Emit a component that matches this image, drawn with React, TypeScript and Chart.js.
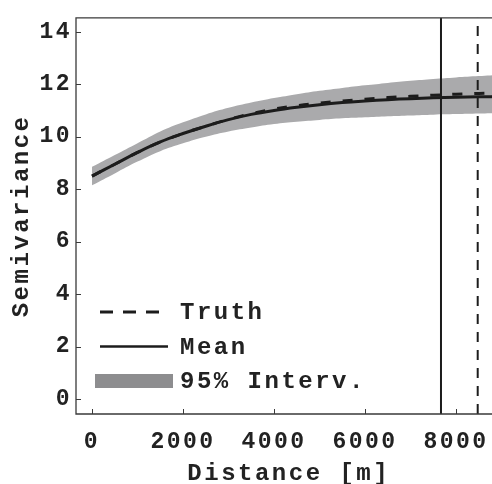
import React, { useEffect, useRef } from "react";
import { Chart, registerables } from "chart.js";

Chart.register(...registerables);

// Lag distance in metres
const distance = [0, 500, 1000, 1500, 2000, 2500, 3000, 3500, 4000, 4500, 5000, 5500, 6000, 6500, 7000, 7500, 8000, 8500, 9000];
// Posterior mean semivariogram
const meanSemivariance = [8.5, 8.95, 9.4, 9.8, 10.12, 10.4, 10.65, 10.85, 11.0, 11.12, 11.22, 11.3, 11.36, 11.41, 11.45, 11.48, 11.5, 11.52, 11.53];
// True semivariogram
const trueSemivariance = [8.5, 8.95, 9.4, 9.8, 10.12, 10.4, 10.66, 10.88, 11.05, 11.18, 11.28, 11.36, 11.43, 11.49, 11.54, 11.58, 11.62, 11.65, 11.68];
// 95% credible interval
const lowerBound = [8.15, 8.6, 9.05, 9.45, 9.75, 10.0, 10.2, 10.35, 10.48, 10.57, 10.64, 10.7, 10.74, 10.78, 10.81, 10.84, 10.86, 10.88, 10.9];
const upperBound = [8.85, 9.3, 9.75, 10.2, 10.55, 10.85, 11.1, 11.3, 11.47, 11.62, 11.75, 11.86, 11.96, 12.05, 12.13, 12.2, 12.26, 12.31, 12.36];

// Estimated (mean) and true practical ranges
const meanRange = 7670;
const trueRange = 8477;

const xTickValues = [0, 2000, 4000, 6000, 8000];
const yTickValues = [0, 2, 4, 6, 8, 10, 12, 14];

const legendLabels = ["Truth", "Mean", "95% Interv."];

const X_MIN = -352;
const X_MAX = 9000;
const Y_MIN = -0.566;
const Y_MAX = 14.53;

const INK = "#1c1c1c";
const TEXT = "#222222";
const FRAME = "#3a3a3a";
const BAND = "#aaaaac";
const SWATCH = "#8d8d8f";
const FONT = "'Liberation Mono', 'DejaVu Sans Mono', monospace";

const CANVAS_W = 520;
const CANVAS_H = 484;

const toPoints = (ys: number[]) => distance.map((x, i) => ({ x, y: ys[i] }));

const spacingPlugin = {
  id: "letterSpacing",
  beforeDraw(chart: any) {
    chart.ctx.letterSpacing = "2.5px";
  },
};

const framePlugin = {
  id: "frameAndLegend",
  afterDatasetsDraw(chart: any) {
    const { ctx, chartArea, scales } = chart;
    const { left, top, bottom } = chartArea;
    const right = chart.width;
    ctx.save();
    ctx.letterSpacing = "0px";
    ctx.strokeStyle = FRAME;
    ctx.lineWidth = 1.3;
    ctx.beginPath();
    ctx.moveTo(right, top);
    ctx.lineTo(left, top);
    ctx.lineTo(left, bottom);
    ctx.lineTo(right, bottom);
    ctx.stroke();
    // inward tick marks
    ctx.lineWidth = 1;
    ctx.beginPath();
    xTickValues.forEach((v) => {
      const px = Math.round(scales.x.getPixelForValue(v)) + 0.5;
      ctx.moveTo(px, bottom);
      ctx.lineTo(px, bottom - 5);
    });
    yTickValues.forEach((v) => {
      const py = Math.round(scales.y.getPixelForValue(v)) + 0.5;
      ctx.moveTo(left, py);
      ctx.lineTo(left + 5, py);
    });
    ctx.stroke();
    ctx.restore();
  },
  afterDraw(chart: any) {
    const { ctx, chartArea } = chart;
    const { left, bottom } = chartArea;
    const rows = [bottom - 102, bottom - 67.5, bottom - 33];
    const sampleX = left + 24;
    const textX = left + 104;
    ctx.save();
    ctx.letterSpacing = "0px";
    ctx.strokeStyle = INK;
    ctx.lineCap = "butt";
    // Truth sample
    ctx.lineWidth = 3;
    ctx.setLineDash([13, 10]);
    ctx.beginPath();
    ctx.moveTo(sampleX, rows[0]);
    ctx.lineTo(sampleX + 59, rows[0]);
    ctx.stroke();
    // Mean sample
    ctx.setLineDash([]);
    ctx.lineWidth = 2.6;
    ctx.beginPath();
    ctx.moveTo(sampleX, rows[1]);
    ctx.lineTo(sampleX + 68, rows[1]);
    ctx.stroke();
    // Interval swatch
    ctx.fillStyle = SWATCH;
    ctx.fillRect(left + 19, rows[2] - 7, 78, 14);
    // Labels
    ctx.letterSpacing = "2.5px";
    ctx.fillStyle = TEXT;
    ctx.font = `bold 24px ${FONT}`;
    ctx.textAlign = "left";
    ctx.textBaseline = "middle";
    legendLabels.forEach((label, i) => {
      ctx.fillText(label, textX, rows[i] + 1);
    });
    ctx.restore();
  },
};

export default function App() {
  const canvasRef = useRef<HTMLCanvasElement | null>(null);

  useEffect(() => {
    const canvas = canvasRef.current;
    if (!canvas) return;
    const chart = new Chart(canvas, {
      type: "line",
      data: {
        datasets: [
          {
            label: "lower",
            data: toPoints(lowerBound),
            borderWidth: 0,
            pointRadius: 0,
            fill: false,
            tension: 0.4,
            order: 5,
          },
          {
            label: legendLabels[2],
            data: toPoints(upperBound),
            borderWidth: 0,
            pointRadius: 0,
            backgroundColor: BAND,
            fill: "-1",
            tension: 0.4,
            order: 4,
          },
          {
            label: legendLabels[0],
            data: toPoints(trueSemivariance),
            borderColor: INK,
            borderWidth: 3,
            borderDash: [10, 12],
            pointRadius: 0,
            fill: false,
            tension: 0.4,
            order: 2,
          },
          {
            label: legendLabels[1],
            data: toPoints(meanSemivariance),
            borderColor: INK,
            borderWidth: 3,
            pointRadius: 0,
            fill: false,
            tension: 0.4,
            order: 1,
          },
          {
            label: "mean range",
            data: [
              { x: meanRange, y: Y_MIN },
              { x: meanRange, y: Y_MAX },
            ],
            borderColor: INK,
            borderWidth: 2,
            pointRadius: 0,
            fill: false,
            order: 3,
          },
          {
            label: "true range",
            data: [
              { x: trueRange, y: Y_MIN },
              { x: trueRange, y: Y_MAX },
            ],
            borderColor: INK,
            borderWidth: 2,
            borderDash: [10, 8],
            pointRadius: 0,
            fill: false,
            order: 3,
          },
        ],
      },
      options: {
        animation: false,
        responsive: false,
        devicePixelRatio: 1,
        layout: { padding: { top: 15, right: CANVAS_W - 501.5, left: 0, bottom: 0 } },
        plugins: {
          legend: { display: false },
          tooltip: { enabled: false },
        },
        scales: {
          x: {
            type: "linear",
            min: X_MIN,
            max: X_MAX,
            grid: { display: false, drawTicks: false },
            border: { display: false },
            afterBuildTicks: (s: any) => {
              s.ticks = xTickValues.map((value) => ({ value }));
            },
            afterFit: (s: any) => {
              s.height = 70;
            },
            ticks: {
              color: TEXT,
              padding: 14,
              maxRotation: 0,
              autoSkip: false,
              font: { family: FONT, size: 23, weight: "bold" },
              callback: (v: any) => String(v),
            },
            title: {
              display: true,
              text: "Distance [m]",
              color: TEXT,
              font: { family: FONT, size: 24, weight: "bold", lineHeight: 1.2 },
              padding: { top: 0, bottom: -4 },
            },
          },
          y: {
            type: "linear",
            min: Y_MIN,
            max: Y_MAX,
            grid: { display: false, drawTicks: false },
            border: { display: false },
            afterBuildTicks: (s: any) => {
              s.ticks = yTickValues.map((value) => ({ value }));
            },
            afterFit: (s: any) => {
              s.width = 76;
            },
            ticks: {
              color: TEXT,
              padding: 4,
              autoSkip: false,
              font: { family: FONT, size: 23, weight: "bold" },
              callback: (v: any) => String(v),
            },
            title: {
              display: true,
              text: "Semivariance",
              color: TEXT,
              font: { family: FONT, size: 24, weight: "bold", lineHeight: 1.2 },
              padding: { top: 8, bottom: 0 },
            },
          },
        },
      },
      plugins: [spacingPlugin, framePlugin],
    });
    return () => chart.destroy();
  }, []);

  return (
    <div
      style={{
        position: "fixed",
        left: 0,
        top: 0,
        width: 492,
        height: 484,
        overflow: "hidden",
        background: "#ffffff",
      }}
    >
      <canvas
        ref={canvasRef}
        width={CANVAS_W}
        height={CANVAS_H}
        style={{ display: "block", width: CANVAS_W, height: CANVAS_H }}
      />
    </div>
  );
}
